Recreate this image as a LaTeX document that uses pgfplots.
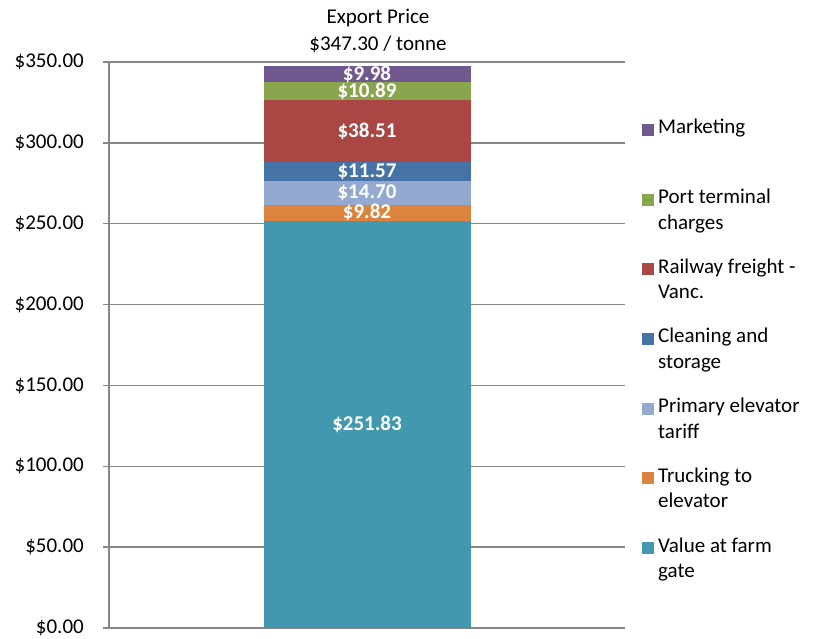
\documentclass[border=0pt]{standalone}
\usepackage{fontspec}
\setmainfont{Carlito}
\usepackage{pgfplots}
\pgfplotsset{compat=1.18}
\definecolor{farm}{HTML}{4198AF}
\definecolor{truck}{HTML}{DB843D}
\definecolor{tariff}{HTML}{93A9CF}
\definecolor{clean}{HTML}{4572A7}
\definecolor{rail}{HTML}{AA4643}
\definecolor{port}{HTML}{89A54E}
\definecolor{mkt}{HTML}{71588F}
\definecolor{gridgray}{HTML}{878787}
\pgfplotsset{seg/.style={draw=none, fill=#1}}

\begin{document}
\fontsize{21}{25.5}\selectfont
\begin{tikzpicture}
\path[use as bounding box] (0pt,0pt) rectangle (816pt,639pt);
\begin{axis}[
  at={(109pt,11pt)}, anchor=south west,
  scale only axis, width=516pt, height=566pt,
  ybar stacked, bar width=207pt,
  xmin=0, xmax=1, ymin=0, ymax=350,
  xtick=\empty,
  ytick={0,50,...,350},
  ytick pos=left,
  tick align=outside,
  major tick length=6pt,
  tick style={gridgray, line width=1.5pt},
  ymajorgrids,
  major grid style={gridgray, line width=1.5pt},
  axis lines*=left,
  axis line style={gridgray, line width=1.8pt},
  /pgf/number format/assume math mode=true,
  yticklabel={\$\pgfmathprintnumber[fixed, fixed zerofill, precision=2]{\tick}},
  every y tick label/.append style={anchor=east, inner sep=0pt, xshift=-19pt},
  point meta=explicit,
  nodes near coords={\$\pgfmathprintnumber[fixed, fixed zerofill, precision=2]{\pgfplotspointmeta}},
  every node near coord/.append style={anchor=center, text=white, font=\bfseries, inner sep=0pt},
  legend image code/.code={\fill[#1] (0pt,5pt) rectangle (12pt,17pt);},
  reverse legend,
  legend cell align=left,
  legend style={draw=none, fill=none, at={(1.0329,0.8993)}, anchor=north west,
    row sep=26.5pt, column sep=4pt, inner sep=0pt,
    nodes={inner sep=0pt, align=left}},
]
\addplot[seg=farm] coordinates {(0.5,251.83) [251.83]};
\addplot[seg=truck] coordinates {(0.5,9.82) [9.82]};
\addplot[seg=tariff] coordinates {(0.5,14.70) [14.70]};
\addplot[seg=clean] coordinates {(0.5,11.57) [11.57]};
\addplot[seg=rail] coordinates {(0.5,38.51) [38.51]};
\addplot[seg=port] coordinates {(0.5,10.89) [10.89]};
\addplot[seg=mkt] coordinates {(0.5,9.98) [9.98]};
\legend{{Value at farm\\gate}, {Trucking to\\elevator}, {Primary elevator\\tariff},
  {Cleaning and\\storage}, {Railway freight -\\Vanc.}, {Port terminal\\charges},
  {Marketing\\~}}
\end{axis}
\node[anchor=base] at (378pt,615pt) {Export Price};
\node[anchor=base] at (378pt,588.5pt) {\$347.30 / tonne};
\end{tikzpicture}
\end{document}
